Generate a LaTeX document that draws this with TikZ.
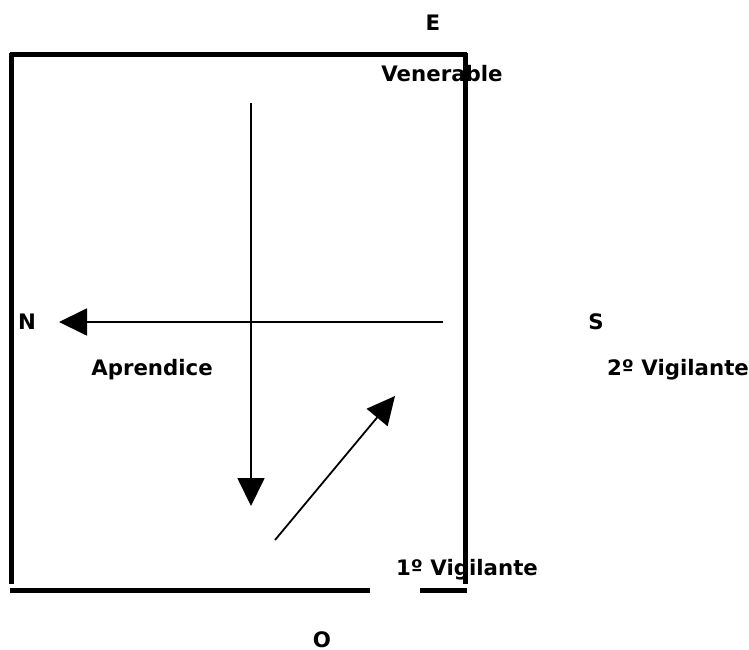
\documentclass[tikz,border=0pt]{standalone}
\usepackage{fontspec}
\setmainfont{DejaVu Sans}
\usetikzlibrary{arrows.meta}
\begin{document}
\begin{tikzpicture}[x=1pt,y=-1pt,
  wall/.style={line width=5pt},
  lbl/.style={font=\fontsize{21.3}{24}\selectfont\bfseries, inner sep=0pt},
  arr/.style={line width=1.8pt, -{Triangle[length=28pt,width=27pt]}}]
\useasboundingbox (0,0) rectangle (749,650);
% walls
\coordinate (tl) at (10,55);
\coordinate (tr) at (467,55);
\coordinate (bl) at (11,584);
\coordinate (br) at (465,584);
\coordinate (b1) at (10,590);
\coordinate (b2) at (370,590);
\coordinate (b3) at (420,590);
\coordinate (b4) at (467,590);
\draw[wall] (tl) -- (tr);
\draw[wall] (11,53) -- (bl);
\draw[wall] (465,53) -- (br);
\draw[wall] (b1) -- (b2);
\draw[wall] (b3) -- (b4);
% arrows
\coordinate (vs) at (251,103);
\coordinate (ve) at (251,506);
\coordinate (hs) at (443,322);
\coordinate (he) at (59,322);
\coordinate (ds) at (275,540);
\coordinate (de) at (395,396);
\draw[arr] (vs) -- (ve);
\draw[arr] (hs) -- (he);
\draw[arr] (ds) -- (de);
% labels
\node[lbl] (E) at (433,23) {E};
\node[lbl] (ven) at (442,74) {Venerable};
\node[lbl] (N) at (27,322) {N};
\node[lbl] (apr) at (152,370) {Aprendice};
\node[lbl] (S) at (596,322) {S};
\node[lbl] (v2) at (678,370) {2º Vigilante};
\node[lbl] (v1) at (467,570) {1º Vigilante};
\node[lbl] (O) at (322,640) {O};
\end{tikzpicture}
\end{document}
